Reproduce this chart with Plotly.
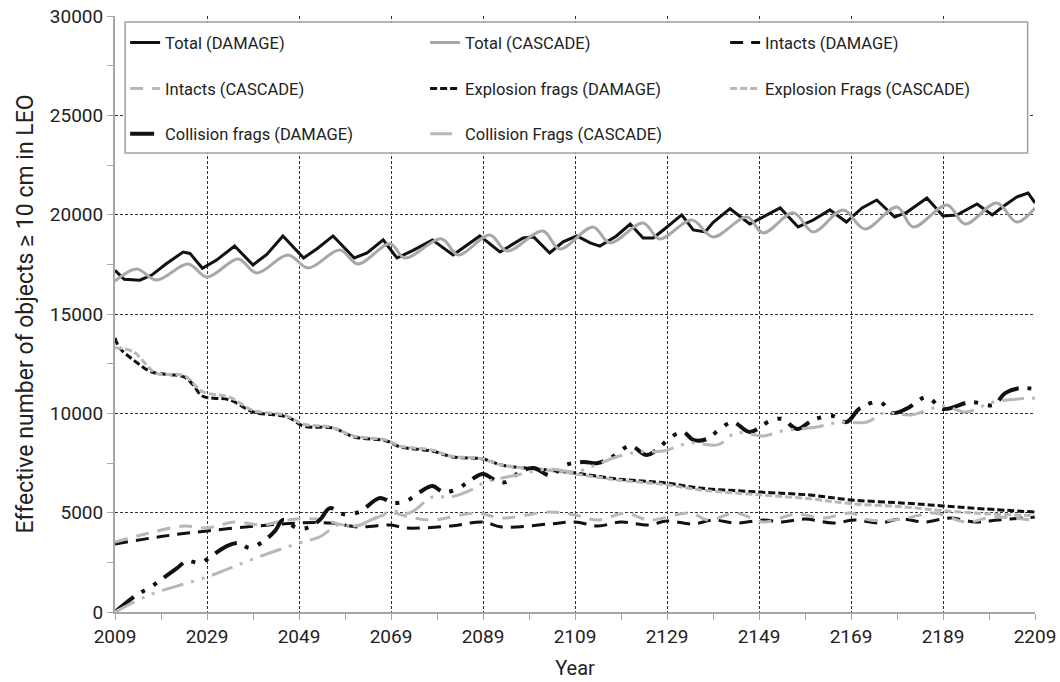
import plotly.graph_objects as go

FONT = "Roboto, sans-serif"

# ---------------- data ----------------
yr_total_damage = [2009, 2011, 2014.4, 2017, 2020, 2023.8, 2025.3, 2028, 2031, 2035, 2039, 2042,
                   2045.5, 2050, 2053, 2056.4, 2061, 2063.8, 2067.3, 2070.3, 2073.8, 2078, 2082.5,
                   2085, 2088.3, 2092.7, 2097.7, 2100, 2103.5, 2106.4, 2109.4, 2112.3, 2114.4, 2118,
                   2121, 2123.8, 2126, 2128.2, 2132.2, 2134.7, 2137.3, 2139, 2142.7, 2147, 2149.9,
                   2153.6, 2157.5, 2160.8, 2164.4, 2168, 2171.4, 2174.6, 2178.5, 2181.2, 2185.5,
                   2189, 2192, 2196.4, 2199.7, 2202, 2205, 2207.5, 2209]
total_damage = [17200, 16750, 16700, 16960, 17500, 18120, 18050, 17300, 17700, 18420, 17470, 18000,
                18930, 17820, 18300, 18930, 17820, 18070, 18730, 17820, 18200, 18730, 17970,
                18400, 18930, 18120, 18830, 18880, 18070, 18630, 18930, 18580, 18420, 18930,
                19530, 18830, 18830, 19230, 19985, 19230, 19130, 19600, 20300, 19530, 19880,
                20340, 19380, 19730, 20240, 19630, 20340, 20740, 19880, 20130, 20840,
                19930, 19985, 20540, 19985, 20400, 20890, 21090, 20590]

yr_total_cascade = [2009, 2013.7, 2018, 2024.9, 2029, 2035.8, 2039.8, 2046.6, 2051, 2057.9, 2061.8,
                    2068.8, 2072, 2080, 2083.6, 2090.5, 2094.2, 2102, 2105.7, 2112.9, 2116.6,
                    2123.8, 2127.4, 2134.4, 2139, 2146.4, 2149.9, 2156.5, 2160.8, 2167.3, 2172,
                    2179, 2182.5, 2189.9, 2193.8, 2200.7, 2205, 2209]
total_cascade = [16660, 17270, 16710, 17520, 16860, 17770, 17070, 17970, 17320, 18220, 17520,
                 18530, 17820, 18780, 17970, 18980, 18170, 19180, 18270, 19380, 18580,
                 19580, 18780, 19730, 18880, 19880, 19080, 20090, 19130, 20240, 19280,
                 20390, 19380, 20490, 19530, 20590, 19630, 20340]

yr_intacts_damage = [2009, 2019, 2029, 2040, 2049, 2056, 2062, 2069, 2072, 2082, 2089, 2093, 2103.5,
                     2109, 2114, 2119, 2125, 2129, 2134.7, 2139, 2144, 2150, 2154, 2159, 2165,
                     2170, 2175, 2180, 2185, 2190.5, 2196, 2201, 2209]
intacts_damage = [3420, 3800, 4080, 4330, 4480, 4480, 4280, 4380, 4230, 4330, 4530, 4280, 4430,
                  4530, 4330, 4530, 4380, 4580, 4430, 4630, 4480, 4630, 4530, 4680, 4480,
                  4630, 4480, 4680, 4530, 4730, 4530, 4630, 4780]

yr_intacts_cascade = [2009, 2016, 2024, 2029, 2035, 2041, 2046.4, 2053, 2061, 2069, 2073, 2078,
                      2087.7, 2093, 2103.5, 2109, 2114, 2120, 2125, 2134, 2138, 2144, 2150, 2157,
                      2163, 2169, 2173, 2180, 2187, 2194, 2200, 2209]
intacts_cascade = [3520, 3950, 4330, 4230, 4530, 4380, 4630, 4680, 4330, 4980, 4780, 4630,
                   4980, 4730, 5030, 4880, 4630, 4980, 4630, 4980, 4630, 4980, 4530, 4930,
                   4730, 4980, 4630, 4680, 4980, 4530, 4780, 4600]

yr_expl_damage = [2009, 2010, 2013, 2017, 2024, 2026, 2028, 2034, 2039, 2046.4, 2050, 2056.4, 2061,
                  2068, 2071, 2078, 2082.5, 2089, 2093, 2103, 2109, 2118, 2129, 2136, 2149, 2160,
                  2169, 2180, 2189, 2198, 2209]
expl_damage = [13790, 13290, 12690, 12080, 11830, 11430, 10870, 10670, 10070, 9820, 9360, 9260, 8810,
               8610, 8310, 8100, 7800, 7700, 7400, 7150, 7000, 6700, 6490, 6240, 6040, 5890,
               5640, 5490, 5340, 5190, 5030]

yr_expl_cascade = [2009, 2013, 2016, 2018, 2024, 2028, 2034, 2039, 2046, 2050, 2056, 2061, 2068,
                   2071, 2078, 2082, 2089, 2093, 2103, 2109, 2118, 2129, 2136, 2149, 2160, 2169,
                   2180, 2189, 2198, 2209]
expl_cascade = [13300, 13100, 12400, 12000, 11900, 11100, 10800, 10150, 9900, 9450, 9300, 8850, 8650,
                8350, 8150, 7850, 7700, 7400, 7150, 6950, 6650, 6400, 6150, 5900, 5700, 5450,
                5300, 5100, 4950, 4850]

yr_coll_damage = [2009, 2013.7, 2016.8, 2019.5, 2022.5, 2024.6, 2027.5, 2030.3, 2033.3, 2036, 2038.3,
                  2041, 2043.8, 2045.5, 2048.5, 2050.7, 2053.5, 2055.7, 2058.6, 2062, 2066.6, 2069.4,
                  2072.4, 2075.3, 2078, 2080.4, 2083.4, 2086, 2089, 2092, 2094, 2097, 2100, 2103.6,
                  2107, 2110.8, 2114, 2117, 2121, 2124.6, 2127.5, 2129.6, 2132.5, 2134.7, 2137.7,
                  2140.5, 2143.3, 2147, 2151.4, 2154, 2157.3, 2160.8, 2165, 2168, 2171, 2175.3,
                  2178, 2181, 2185.5, 2189, 2195, 2200, 2202.5, 2205.7, 2209]
coll_damage = [0, 860, 1260, 1710, 2210, 2570, 2470, 2870, 3320, 3470, 3220,
               3520, 4080, 4630, 4230, 4230, 4630, 5230, 4930, 5030, 5740, 5490,
               5590, 6040, 6340, 6040, 6190, 6590, 6950, 6590, 6540, 7050, 7250, 6880,
               7400, 7550, 7500, 7800, 8360, 7900, 8310, 8760, 9060, 8660, 8710,
               9210, 9560, 9060, 9620, 9720, 9210, 9670, 9870, 9560, 10270, 10570,
               10020, 10220, 10820, 10220, 10570, 10420, 11020, 11270, 11220]

yr_coll_cascade = [2009, 2016.6, 2029.6, 2039, 2049, 2053.5, 2058, 2061, 2065, 2069.4, 2073, 2078,
                   2082, 2087.7, 2089, 2096.4, 2103.6, 2109, 2114, 2118, 2122.5, 2128, 2134, 2140,
                   2144, 2150, 2154, 2161.5, 2166.6, 2172.5, 2176, 2182, 2189, 2194, 2200, 2209]
coll_cascade = [0, 860, 1810, 2670, 3470, 3780, 4430, 4280, 4680, 5080, 4980, 5790,
                5790, 6290, 6490, 6900, 7200, 7050, 7450, 7800, 8050, 8100, 8510, 8410,
                9010, 8860, 9110, 9310, 9560, 9560, 10020, 9920, 10370, 10070, 10570, 10770]

x_ticks = [2009, 2029, 2049, 2069, 2089, 2109, 2129, 2149, 2169, 2189, 2209]
x_minor = [2019, 2039, 2059, 2079, 2099, 2119, 2139, 2159, 2179, 2199]
y_ticks = [0, 5000, 10000, 15000, 20000, 25000, 30000]
y_minor = [2500, 7500, 12500, 17500, 22500, 27500]

BLACK = "#111111"
GRAY = "#a8a8a8"
LGRAY = "#b8b8b8"

fig = go.Figure()


def add(x, y, name, color, width, dash, legend, shape="linear"):
    fig.add_trace(go.Scatter(x=x, y=y, name=name, mode="lines", legend=legend,
                             line=dict(color=color, width=width, dash=dash, shape=shape)))


add(yr_total_damage, total_damage, "Total (DAMAGE)", BLACK, 3, "solid", "legend")
add(yr_total_cascade, total_cascade, "Total (CASCADE)", GRAY, 3, "solid", "legend", "spline")
add(yr_intacts_damage, intacts_damage, "Intacts (DAMAGE)", BLACK, 3, "13px,8px", "legend", "spline")
add(yr_intacts_cascade, intacts_cascade, "Intacts (CASCADE)", LGRAY, 3, "13px,9px", "legend2", "spline")
add(yr_expl_damage, expl_damage, "Explosion frags (DAMAGE)", BLACK, 3, "7px,3px", "legend2", "spline")
add(yr_expl_cascade, expl_cascade, "Explosion Frags (CASCADE)", LGRAY, 3, "7px,3px", "legend2", "spline")
add(yr_coll_damage, coll_damage, "Collision frags (DAMAGE)", BLACK, 4, "24px,9px,4px,10px,4px,9px", "legend3", "spline")
add(yr_coll_cascade, coll_cascade, "Collision Frags (CASCADE)", LGRAY, 3, "22px,8px,3px,8px,3px,8px", "legend3", "spline")

AX = "#a6a6a6"
GRID = "#333333"

fig.update_xaxes(range=[2009, 2209], tickvals=x_ticks, ticks="outside", ticklen=6, tickcolor=AX,
                 showline=True, linecolor=AX, linewidth=2, showgrid=True, gridcolor=GRID,
                 gridwidth=1, griddash="3px,2px", zeroline=False,
                 minor=dict(tickvals=x_minor, ticks="outside", ticklen=6, tickcolor=AX, showgrid=False),
                 title=dict(text="Year", font=dict(size=20), standoff=14),
                 tickfont=dict(size=19))
fig.update_yaxes(range=[0, 30000], tickvals=y_ticks, ticktext=[str(v) for v in y_ticks],
                 ticks="outside", ticklen=6, tickcolor=AX, showline=True, linecolor=AX, linewidth=2,
                 showgrid=True, gridcolor=GRID, gridwidth=1, griddash="3px,2px", zeroline=False,
                 minor=dict(tickvals=y_minor, ticks="outside", ticklen=6, tickcolor=AX, showgrid=False),
                 title=dict(text="Effective number of objects ≥ 10 cm in LEO", font=dict(size=23), standoff=10),
                 tickfont=dict(size=19))

fig.add_shape(type="rect", xref="paper", yref="paper", x0=0.011, x1=0.992, y0=0.77, y1=0.99,
              fillcolor="white", line=dict(color="#a0a0a0", width=1.5), layer="above")

leg_common = dict(orientation="h", x=0.011, xanchor="left", yanchor="middle",
                  bgcolor="rgba(0,0,0,0)", entrywidth=255, entrywidthmode="pixels",
                  font=dict(size=16.5, family=FONT, color="#222"), itemwidth=30)

fig.update_layout(
    width=1060, height=682,
    margin=dict(l=115, r=25, t=16, b=70, autoexpand=False),
    plot_bgcolor="white", paper_bgcolor="white",
    font=dict(family=FONT, size=18, color="#222"),
    showlegend=True,
    legend=dict(y=0.955, **leg_common),
    legend2=dict(y=0.878, **leg_common),
    legend3=dict(y=0.802, **leg_common),
)

fig.write_html("out.html")
